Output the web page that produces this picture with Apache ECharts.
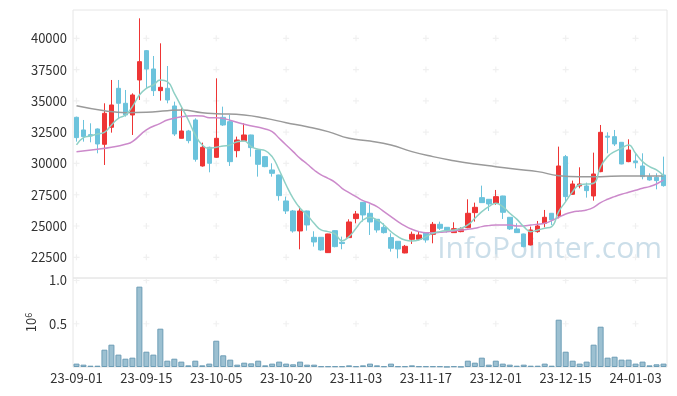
<!DOCTYPE html>
<html>
<head>
<meta charset="utf-8">
<script src="https://cdn.jsdelivr.net/npm/echarts@6/dist/echarts.min.js"></script>
<style>
html,body{margin:0;padding:0;background:#fff;}
#chart{width:677px;height:396px;}
</style>
</head>
<body>
<div id="chart"></div>
<script>
// Trading dates (Korean market calendar)
const dates = ["23-09-01","23-09-04","23-09-05","23-09-06","23-09-07","23-09-08","23-09-11","23-09-12","23-09-13","23-09-14",
"23-09-15","23-09-18","23-09-19","23-09-20","23-09-21","23-09-22","23-09-25","23-09-26","23-09-27","23-10-04",
"23-10-05","23-10-06","23-10-10","23-10-11","23-10-12","23-10-13","23-10-16","23-10-17","23-10-18","23-10-19",
"23-10-20","23-10-23","23-10-24","23-10-25","23-10-26","23-10-27","23-10-30","23-10-31","23-11-01","23-11-02",
"23-11-03","23-11-06","23-11-07","23-11-08","23-11-09","23-11-10","23-11-13","23-11-14","23-11-15","23-11-16",
"23-11-17","23-11-20","23-11-21","23-11-22","23-11-23","23-11-24","23-11-27","23-11-28","23-11-29","23-11-30",
"23-12-01","23-12-04","23-12-05","23-12-06","23-12-07","23-12-08","23-12-11","23-12-12","23-12-13","23-12-14",
"23-12-15","23-12-18","23-12-19","23-12-20","23-12-21","23-12-22","23-12-26","23-12-27","23-12-28","24-01-02",
"24-01-03","24-01-04","24-01-05","24-01-08","24-01-09"];

const openP = [33686,32674,32300,32754,31529,32887,36003,34805,33873,36669,39012,37547,35817,36003,34592,32009,32594,33473,29798,31289,30491,33686,33340,31023,31822,32275,31076,30544,29479,29079,27002,26203,24605,26203,24099,24099,22874,24632,23700,24073,25591,26895,26017,25537,24898,24073,23780,22847,23940,23940,24472,24339,25138,24898,24472,24552,24872,26070,27268,27135,26816,27401,25697,24765,24366,23487,24552,25218,26017,25830,30544,27535,28200,28200,27401,29346,32180,32142,31689,30144,30200,29798,28946,28893,29079];
const closeP = [32062,32142,32200,31556,34006,34671,34805,33873,35470,38133,37547,35817,36083,35071,32355,32594,31822,30331,31289,30011,32009,33074,30144,31875,32275,31263,29931,29745,29212,27428,26203,24605,26203,25085,23727,23087,24366,23354,23600,25324,25963,25884,25324,24685,24472,23221,23167,23380,24339,24286,23886,25138,24818,24685,24792,24765,26017,26496,26869,26762,27348,26097,24765,24472,23354,24685,25005,25697,25484,29798,27348,28360,28360,27828,29159,32488,32100,31556,29958,31076,30070,28946,28680,28627,28227];
const lowP = [31742,31742,31689,30810,29878,32461,33606,33740,32275,35071,36003,35390,35018,34805,32195,32009,31609,30144,29745,29292,30450,33000,29798,30491,31780,30544,28946,29700,28946,27029,25963,24472,23141,24632,23354,23030,22850,23300,23141,24050,25218,25351,24286,24472,24400,22954,22422,22820,23567,23860,23673,23620,24685,24472,24450,24500,24820,25351,26840,26203,26700,25564,24685,24450,23300,23450,24472,24898,25085,25617,26949,27500,28014,27268,27029,29300,30810,31396,29930,30100,29612,28733,28627,27934,28147];
const highP = [33740,33473,33207,32800,34805,36669,36669,35870,35600,41595,39065,38586,39598,37787,34938,34405,32680,33606,31662,31342,36802,34538,33873,32142,33207,32300,31100,30600,30011,29100,27348,26283,26549,26230,24579,24120,24380,24660,24153,25537,26203,26920,26736,25560,25218,24419,23800,23487,24552,24605,24500,25324,25350,24910,25298,24898,27135,26869,28227,27160,27881,27420,25720,25218,24390,24951,25404,26283,26040,31343,30677,28627,29692,28467,30863,33074,32488,32674,31700,31929,30810,30810,29212,29212,30544];

const ma5 = [31476,32062,32195,32355,32488,33074,33606,33873,34538,35470,36003,36269,36669,36536,35603,34538,33473,32275,31476,31210,31290,31396,31476,31742,31795,31343,31130,31023,30544,29479,28280,27215,26416,25883,25218,24685,24552,24366,23833,24153,24818,25484,25700,25484,25085,24552,24153,23887,23807,23887,24153,24419,24552,24632,24685,24818,25085,25617,26150,26549,26816,26549,26017,25550,24951,24552,24685,24818,24951,26150,26949,27748,28300,28350,28414,29745,30544,30944,31210,31476,30810,30144,29745,29479,29026];
const ma20 = [30943,null,null,31130,null,31290,null,31529,31742,null,32674,null,33207,33473,null,33740,null,33820,33793,33660,33660,33600,null,null,33127,null,null,32754,32541,32009,31476,30943,30410,29958,29479,29079,28813,28494,28014,27668,27348,27029,26816,26549,26150,25750,25351,25005,24738,24552,24472,24472,24499,24552,24605,24685,24738,24818,24951,25032,25085,25085,25085,25005,25005,25085,25138,25218,25431,25697,25964,26124,26203,26283,26496,26869,27135,27348,27535,27694,27854,28014,28147,28360,28680];
const maLong = [34618,null,null,null,34219,null,null,34059,null,null,34086,null,null,34219,null,34272,null,null,34059,null,33979,null,null,null,33873,null,null,33606,null,null,33260,null,null,32940,null,null,32541,null,null,32009,null,null,31795,null,null,31476,null,null,30943,null,null,30544,null,null,30224,null,null,29958,null,null,29745,null,null,29532,null,null,29346,null,null,29026,null,null,28946,null,null,28946,null,null,29000,null,null,29000,null,null,29000];

const volume = [39000,27000,15000,15000,200000,258000,143000,96000,108000,929000,
177000,143000,443000,73000,96000,62000,19000,73000,19000,39000,
304000,135000,85000,27000,50000,42000,73000,19000,39000,62000,
39000,31000,62000,27000,27000,8000,8000,8000,8000,19000,
8000,19000,39000,19000,8000,39000,8000,8000,19000,8000,
8000,8000,8000,2000,8000,3000,73000,50000,108000,27000,
73000,39000,27000,15000,27000,15000,15000,39000,15000,547000,
177000,73000,39000,62000,258000,466000,108000,119000,85000,85000,
39000,62000,19000,31000,39000];

const priceTicks = [22500,25000,27500,30000,32500,35000,37500,40000];
const volTicks = [500000,1000000];

const labelDates = dates.filter((d, i) => i % 10 === 0);
const candleData = dates.map((d, i) => [openP[i], closeP[i], lowP[i], highP[i]]);
const priceCross = [];
labelDates.forEach(d => priceTicks.forEach(t => priceCross.push([d, t])));
const volCross = [];
labelDates.forEach(d => volTicks.forEach(t => volCross.push([d, t])));

const FONT = '"Noto Sans CJK KR","Noto Sans",sans-serif';
const crossSym = 'path://M2,0H3V2H5V3H3V5H2V3H0V2H2Z';

const chart = echarts.init(document.getElementById('chart'), null, {renderer: 'canvas'});
chart.setOption({
  animation: false,
  backgroundColor: '#fff',
  textStyle: {fontFamily: FONT},
  grid: [
    {left: 73, top: 7, width: 594, height: 281.6, show: false},
    {left: 73, top: 278, width: 594, height: 89, show: true, borderColor: '#e6e6e6', borderWidth: 1, backgroundColor: 'transparent'},
    {left: 73, top: 10, width: 594, height: 268, show: true, borderColor: '#e6e6e6', borderWidth: 1, backgroundColor: 'transparent'}
  ],
  xAxis: [
    {type: 'category', gridIndex: 0, data: dates, boundaryGap: true,
     axisLine: {show: false}, axisTick: {show: false}, axisLabel: {show: false}, splitLine: {show: false}},
    {type: 'category', gridIndex: 1, data: dates, boundaryGap: true,
     axisLine: {show: false}, axisTick: {show: false}, splitLine: {show: false},
     axisLabel: {interval: 9, color: '#333', fontSize: 13, margin: 5, fontFamily: FONT}},
    {type: 'value', gridIndex: 2, show: false}
  ],
  yAxis: [
    {type: 'value', gridIndex: 0, min: 20000, max: 42500, interval: 2500,
     axisLine: {show: false}, axisTick: {show: false}, splitLine: {show: false},
     axisLabel: {showMinLabel: false, showMaxLabel: false, color: '#333', fontSize: 13, margin: 6, fontFamily: FONT,
       formatter: v => String(v)}},
    {type: 'value', gridIndex: 1, min: 0, max: 1029000, interval: 500000,
     axisLine: {show: false}, axisTick: {show: false}, splitLine: {show: false},
     axisLabel: {showMinLabel: false, showMaxLabel: false, color: '#333', fontSize: 13, margin: 6, fontFamily: FONT,
       formatter: v => (v / 1e6).toFixed(1)},
     name: '{b|10}{s|6}', nameLocation: 'middle', nameRotate: 90, nameGap: 33,
     nameTextStyle: {color: '#333', rich: {b: {fontSize: 13, fontFamily: FONT, color: '#333'}, s: {fontSize: 9, fontFamily: FONT, color: '#333', verticalAlign: 'top', padding: [0,0,6,0]}}}},
    {type: 'value', gridIndex: 2, show: false}
  ],
  graphic: [
    {type: 'text', right: 15, top: 234, z: 0, silent: true,
     style: {text: 'InfoPointer.com', font: '30px "Open Sans", sans-serif', fill: 'rgba(160,195,215,0.55)'}}
  ],
  series: [
    {type: 'scatter', xAxisIndex: 0, yAxisIndex: 0, data: priceCross, symbol: crossSym, symbolSize: 6,
     itemStyle: {color: '#ececec'}, silent: true, z: 1},
    {type: 'scatter', xAxisIndex: 1, yAxisIndex: 1, data: volCross, symbol: crossSym, symbolSize: 6,
     itemStyle: {color: '#ececec'}, silent: true, z: 1},
    {type: 'candlestick', xAxisIndex: 0, yAxisIndex: 0, data: candleData, barWidth: 5, z: 3,
     itemStyle: {color: '#ee3535', color0: '#6cc3dc', borderColor: '#ee3535', borderColor0: '#6cc3dc', borderWidth: 1}},
    {type: 'line', xAxisIndex: 0, yAxisIndex: 0, data: maLong, smooth: true, connectNulls: true, showSymbol: false,
     lineStyle: {color: '#9a9a9a', width: 1.5}, z: 4},
    {type: 'line', xAxisIndex: 0, yAxisIndex: 0, data: ma20, smooth: true, connectNulls: true, showSymbol: false,
     lineStyle: {color: '#cc8acb', width: 1.5}, z: 4},
    {type: 'line', xAxisIndex: 0, yAxisIndex: 0, data: ma5, smooth: true, showSymbol: false,
     lineStyle: {color: '#8fd0c5', width: 1.5}, z: 4},
    {type: 'bar', xAxisIndex: 1, yAxisIndex: 1, data: volume, barWidth: 6, z: 3,
     itemStyle: {color: '#9cc0d1', borderColor: '#6d9db6', borderWidth: 1}}
  ]
});
</script>
</body>
</html>
